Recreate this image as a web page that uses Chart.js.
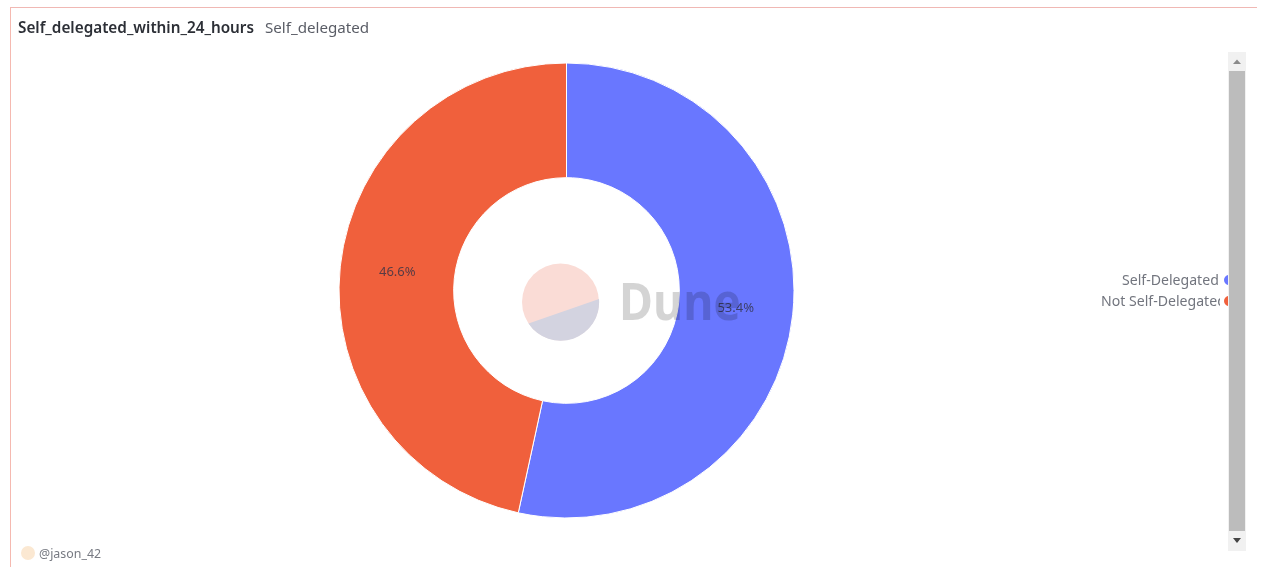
<!DOCTYPE html>
<html>
<head>
<meta charset="utf-8">
<script src="https://cdn.jsdelivr.net/npm/chart.js@4"></script>
<style>
html,body{margin:0;padding:0;background:#fff;width:1261px;height:567px;overflow:hidden;font-family:"Noto Sans",Roboto,sans-serif}
canvas{position:absolute;left:0;top:0}
.abs{position:absolute}
#frameT{left:10px;top:7px;width:1247px;height:1px;background:#f0b8b4}
#frameL{left:10px;top:7px;width:1px;height:560px;background:#f5b9b0}
#title{left:18px;top:17px;font-size:15.3px;line-height:21px;white-space:pre;color:#2c2f36;font-weight:600}
#sub{left:265px;top:17px;font-size:15.15px;line-height:21px;white-space:pre;color:#5a5d66}
#track{left:1228px;top:52px;width:18px;height:499px;background:#f1f1f1}
#thumb{left:1229px;top:71px;width:16px;height:460px;background:#bcbcbc}
#legend div{position:absolute;font-size:14.1px;line-height:20px;color:#72757e;white-space:pre}
#author{left:39px;top:545px;font-size:12.4px;line-height:18px;color:#777a82}
#avatar{left:21px;top:546px;width:14px;height:14px;border-radius:50%;background:#fbe8d2}
</style>
</head>
<body>
<canvas id="c" width="1261" height="567"></canvas>
<div class="abs" id="frameT"></div>
<div class="abs" id="frameL"></div>
<div class="abs" id="title"></div>
<div class="abs" id="sub"></div>
<svg class="abs" style="left:515px;top:258px;pointer-events:none" width="235" height="90" viewBox="0 0 235 90">
  <circle cx="45.5" cy="44" r="38.5" fill="#fadcd6"/>
  <path d="M13.5 65.5 A38.5 38.5 0 0 0 84 41 Z" fill="#d3d3e0"/>
  <text x="104" y="62" font-family="'Noto Sans',sans-serif" font-weight="700" font-size="52" textLength="122" lengthAdjust="spacingAndGlyphs" fill="rgba(0,0,0,0.17)">Dune</text>
</svg>
<div class="abs" id="legend" style="left:1090px;top:270px;width:138px;height:42px;overflow:hidden"></div>
<div class="abs" id="track"></div>
<div class="abs" id="thumb"></div>
<svg class="abs" style="left:1228px;top:52px" width="18" height="499">
  <path d="M5 12 L9 7.5 L13 12 Z" fill="#8a8a8a"/>
  <path d="M5 486 L13 486 L9 491 Z" fill="#444"/>
</svg>
<div class="abs" id="avatar"></div>
<div class="abs" id="author"></div>
<script>
const titleText = "Self_delegated_within_24_hours";
const subtitleText = "Self_delegated";
const authorText = "@jason_42";
const categories = ["Self-Delegated", "Not Self-Delegated"];
const sliceValues = [53.4, 46.6];
const sliceColors = ["#6977ff", "#f0603c"];

document.getElementById("title").textContent = titleText;
document.getElementById("sub").textContent = subtitleText;
document.getElementById("author").textContent = authorText;

const legend = document.getElementById("legend");
const legendTextLeft = [32, 11];
const legendRowTop = [0, 21];
categories.forEach((name, i) => {
  const t = document.createElement("div");
  t.textContent = name;
  t.style.left = legendTextLeft[i] + "px";
  t.style.top = legendRowTop[i] + "px";
  t.style.width = (130 - legendTextLeft[i]) + "px";
  t.style.overflow = "hidden";
  legend.appendChild(t);
  const d = document.createElement("span");
  d.style.cssText = "position:absolute;left:134px;top:" + (legendRowTop[i] + 5) +
    "px;width:10px;height:10px;border-radius:50%;background:" + sliceColors[i];
  legend.appendChild(d);
});

const percentLabels = {
  id: "percentLabels",
  afterDatasetsDraw(chart) {
    const ctx = chart.ctx;
    const meta = chart.getDatasetMeta(0);
    const total = sliceValues.reduce((a, b) => a + b, 0);
    ctx.save();
    ctx.font = '13px "Noto Sans", sans-serif';
    ctx.fillStyle = "rgba(50,50,70,0.8)";
    ctx.textAlign = "center";
    ctx.textBaseline = "middle";
    meta.data.forEach((arc, i) => {
      const p = arc.tooltipPosition();
      ctx.fillText((sliceValues[i] / total * 100).toFixed(1) + "%", p.x, p.y);
    });
    ctx.restore();
  }
};

new Chart(document.getElementById("c"), {
  type: "doughnut",
  data: {
    labels: categories,
    datasets: [{
      data: sliceValues,
      backgroundColor: sliceColors,
      borderColor: "#ffffff",
      borderWidth: 1
    }]
  },
  options: {
    responsive: false,
    animation: false,
    cutout: "49.6%",
    layout: { padding: { left: 338.5, right: 466.5, top: 62.5, bottom: 48.5 } },
    plugins: { legend: { display: false }, tooltip: { enabled: false } }
  },
  plugins: [percentLabels]
});
</script>
</body>
</html>
